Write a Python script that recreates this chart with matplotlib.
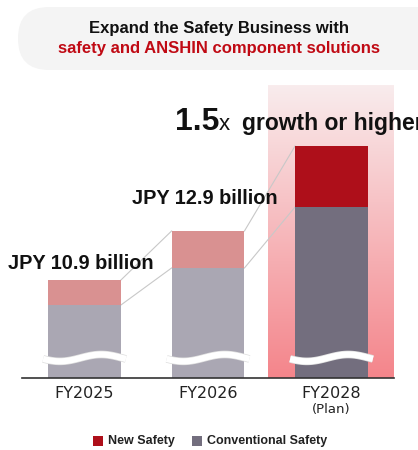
import numpy as np
import matplotlib
matplotlib.use("Agg")
import matplotlib.pyplot as plt
from matplotlib.patches import FancyBboxPatch, Rectangle
from matplotlib.transforms import IdentityTransform
import matplotlib.patheffects as pe

# ==================================
# DATA (JPY billion, axis truncated)
# ==================================
years = ["FY2025", "FY2026", "FY2028"]
sub_labels = ["", "", "(Plan)"]
conventional = [9.88, 11.39, 13.88]
new_safety = [1.02, 1.51, 2.49]
value_labels = ["JPY 10.9 billion", "JPY 12.9 billion", ""]
y_floor = 6.9
y_top = 18.86

# colours: past years are muted, plan year is strong
conv_colors = ["#aaa7b3", "#aaa7b3", "#736e7e"]
new_colors = ["#d99191", "#d99191", "#ae0f1a"]

W, H = 418, 450
fig = plt.figure(figsize=(W / 100, H / 100), dpi=100)

# ==================================
# TITLE BOX
# ==================================
box = FancyBboxPatch(
    (18, H - 70), 430, 63,
    boxstyle="round,pad=0,rounding_size=31",
    transform=IdentityTransform(),
    facecolor="#f4f4f4", edgecolor="none"
)
fig.patches.append(box)

fig.text(219 / W, 1 - 28 / H, "Expand the Safety Business with",
         ha="center", va="center", fontsize=12, fontweight="bold",
         family="Liberation Sans", color="#111111")
fig.text(219 / W, 1 - 49 / H, "safety and ANSHIN component solutions",
         ha="center", va="center", fontsize=12, fontweight="bold",
         family="Liberation Sans", color="#c00a14")

# ==================================
# BARS
# ==================================
ax = fig.add_axes([22 / W, 72 / H, 372 / W, 293 / H])
x = np.arange(len(years))
bw = 0.59

ax.set_xlim(-0.506, 2.506)
ax.set_ylim(y_floor, y_top)

# gradient behind plan year
grad = np.linspace(0, 1, 256).reshape(-1, 1)
cmap = matplotlib.colors.LinearSegmentedColormap.from_list(
    "shade", ["#f9eced", "#f4858b"])
ax.imshow(grad, extent=(1.486, 2.506, y_floor, y_top), origin="upper",
          cmap=cmap, aspect="auto", zorder=0)

conv_h = [c - y_floor for c in conventional]
ax.bar(x, conv_h, bw, bottom=y_floor, color=conv_colors, zorder=2)
ax.bar(x, new_safety, bw, bottom=conventional, color=new_colors, zorder=2)

totals = [c + n for c, n in zip(conventional, new_safety)]

# connector lines between bar corners
for i in range(len(x) - 1):
    for a, b in [(totals[i], totals[i + 1]), (conventional[i], conventional[i + 1])]:
        ax.plot([x[i] + bw / 2, x[i + 1] - bw / 2], [a, b],
                color="#c8c8c8", lw=0.8, zorder=1)

# wavy break marks
wx = np.linspace(-bw / 2 - 0.04, bw / 2 + 0.04, 60)
wy = 7.72 - 0.14 * np.sin(2 * np.pi * (wx - wx[0]) / (wx[-1] - wx[0]) + 0.3)
for i in x:
    ax.plot(wx + i, wy, color="white", lw=4.5, solid_capstyle="butt", zorder=3,
            path_effects=[pe.Stroke(linewidth=5.5, foreground="#dddddd"), pe.Normal()])

# value labels
offsets = [17, 33, 0]
for i, lab in enumerate(value_labels):
    if lab:
        ax.annotate(lab, xy=(x[i], totals[i]),
                    xytext=(-2.5, offsets[i] / 1.389),
                    textcoords="offset points", ha="center", va="center",
                    fontsize=14.3, fontweight="bold", family="Liberation Sans",
                    color="#111111")

# axis styling
for s in ["top", "right", "left"]:
    ax.spines[s].set_visible(False)
ax.spines["bottom"].set_color("#333333")
ax.spines["bottom"].set_linewidth(1.2)
ax.set_yticks([])
ax.set_xticks(x)
ax.set_xticklabels(years, fontsize=11.5, color="#222222", family="DejaVu Sans")
ax.tick_params(axis="x", length=0, pad=6)
for i, sl in enumerate(sub_labels):
    if sl:
        ax.annotate(sl, xy=(x[i], y_floor), xytext=(0, -32 / 1.389),
                    textcoords="offset points", ha="center", va="center",
                    fontsize=9.5, color="#222222", family="DejaVu Sans",
                    annotation_clip=False)

# growth headline
fig.text(175 / W, 1 - 130 / H, "1.5", fontsize=23, fontweight="bold",
         family="Liberation Sans", color="#111111", va="baseline")
fig.text(219 / W, 1 - 130 / H, "x", fontsize=16,
         family="Liberation Sans", color="#111111", va="baseline")
fig.text(242 / W, 1 - 130 / H, "growth or higher", fontsize=16.5,
         fontweight="bold", family="Liberation Sans", color="#111111",
         va="baseline")

# ==================================
# LEGEND
# ==================================
leg_items = [("New Safety", "#ae0f1a", 93), ("Conventional Safety", "#736e7e", 192)]
for name, col, px in leg_items:
    fig.patches.append(Rectangle((px, H - 446), 10, 10, transform=IdentityTransform(),
                                 facecolor=col, edgecolor="none"))
    fig.text((px + 15) / W, 1 - 441 / H, name, fontsize=9, fontweight="bold",
             family="Liberation Sans", color="#222222", va="center")

plt.savefig("out.png", dpi=100)
plt.close()
